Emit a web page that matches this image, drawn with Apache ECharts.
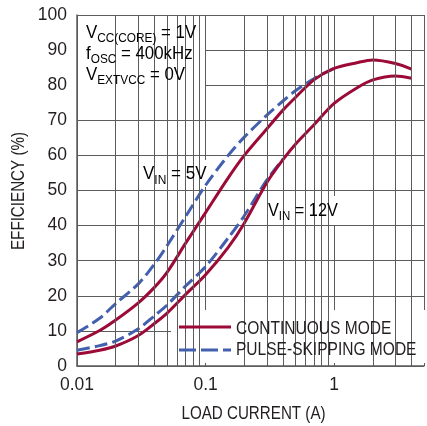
<!DOCTYPE html>
<html><head><meta charset="utf-8">
<script src="https://cdn.jsdelivr.net/npm/echarts@6/dist/echarts.min.js"></script>
<style>html,body{margin:0;padding:0;background:#fff}#c{width:427px;height:426px}</style>
</head><body><div id="c"></div>
<script>
// Load current (A)
const current = [0.01, 0.015, 0.02, 0.03, 0.04, 0.05, 0.07, 0.1, 0.15, 0.2, 0.3, 0.4, 0.5, 0.7, 1, 1.5, 2, 3, 4];
// Efficiency (%)
const ccm5  = [6.9, 10.1, 13.1, 18.0, 22.4, 26.6, 35.0, 43.7, 53.6, 60.0, 67.6, 72.9, 76.5, 81.6, 84.8, 86.4, 87.2, 86.2, 84.6];
const ps5   = [9.5, 13.6, 17.8, 23.4, 29.0, 34.2, 42.6, 51.5, 60.0, 65.2, 71.5, 75.5, 78.4, 81.9, 84.8, null, null, null, null];
const ccm12 = [3.4, 4.5, 5.7, 8.7, 12.1, 15.0, 20.4, 26.0, 33.8, 40.7, 52.3, 58.8, 63.2, 68.8, 74.8, 79.2, 81.5, 82.6, 82.0];
const ps12  = [4.5, 5.8, 7.1, 10.6, 14.3, 17.3, 22.8, 28.3, 36.5, 42.8, 53.0, 58.9, null, null, null, null, null, null, null];
const xMajor = [0.01, 0.1, 1];
const xMinor = [0.02,0.03,0.04,0.05,0.06,0.07,0.08,0.09,0.2,0.3,0.4,0.5,0.6,0.7,0.8,0.9,2,3,4];
const seriesNames = ['CONTINUOUS MODE', 'PULSE-SKIPPING MODE'];
const xName = 'LOAD CURRENT (A)';
const yName = 'EFFICIENCY (%)';

const FONT = "'Liberation Sans',Arial,sans-serif";
const RED = '#9c0b37', BLUE = '#4260ad', GRID = '#5c5c5c', TXT = '#231f20';
const FS = 18.5, SFS = 13, LFS = 17.5;

function pairs(ys) { return current.map((x, i) => ys[i] == null ? null : [x, ys[i]]).filter(p => p); }

const rich = {
  m: { fontSize: FS, fontFamily: FONT, color: TXT, lineHeight: 21 },
  s: { fontSize: SFS, fontFamily: FONT, color: TXT, lineHeight: 21, padding: [12, 0, 0, 0] }
};
function label(text, x, y, opts) {
  return Object.assign({ type: 'text', z: 10, x: x, y: y, scaleX: 0.82,
    style: { text: text, fontSize: FS, fontFamily: FONT, fill: TXT, align: 'left', verticalAlign: 'middle' } }, opts || {});
}

const chart = echarts.init(document.getElementById('c'));
chart.setOption({
  animation: false,
  grid: { left: 77, top: 15, width: 352, height: 351 },
  xAxis: {
    type: 'log', logBase: 10, min: 0.01, max: 5,
    axisLine: { show: true, lineStyle: { color: GRID, width: 1.5 } },
    axisTick: { show: false },
    splitLine: { show: true, lineStyle: { color: GRID, width: 1 } },
    axisLabel: {
      fontSize: LFS, fontFamily: FONT, color: TXT, margin: 10,
      formatter: v => xMajor.some(m => Math.abs(m - v) < 1e-9) ? String(v) : ''
    }
  },
  yAxis: {
    type: 'value', min: 0, max: 100, interval: 10,
    axisLine: { show: true, lineStyle: { color: GRID, width: 1.5 } },
    axisTick: { show: false },
    splitLine: { show: true, lineStyle: { color: GRID, width: 1 } },
    axisLabel: { fontSize: LFS, fontFamily: FONT, color: TXT, margin: 10 }
  },
  series: [
    {
      type: 'line', data: [], z: 1, silent: true,
      markLine: {
        silent: true, symbol: ['none', 'none'], label: { show: false },
        lineStyle: { color: GRID, width: 1, type: 'solid' },
        emphasis: { disabled: true },
        data: xMinor.map(v => ({ xAxis: v }))
      }
    },
    { name: seriesNames[1], type: 'line', data: pairs(ps5), z: 2, smooth: 0.3, showSymbol: false,
      lineStyle: { color: BLUE, width: 3, type: [13, 5] } },
    { name: seriesNames[1], type: 'line', data: pairs(ps12), z: 2, smooth: 0.3, showSymbol: false,
      lineStyle: { color: BLUE, width: 3, type: [13, 5] } },
    { name: seriesNames[0], type: 'line', data: pairs(ccm5), z: 3, smooth: 0.3, showSymbol: false,
      lineStyle: { color: RED, width: 3 } },
    { name: seriesNames[0], type: 'line', data: pairs(ccm12), z: 3, smooth: 0.3, showSymbol: false,
      lineStyle: { color: RED, width: 3 } }
  ],
  graphic: { elements: [
    // white backgrounds covering the grid
    { type: 'rect', z: 1.5, shape: { x: 78, y: 16, width: 127, height: 75 }, style: { fill: '#fff' } },
    { type: 'rect', z: 1.5, shape: { x: 139, y: 160, width: 69, height: 27 }, style: { fill: '#fff' } },
    { type: 'rect', z: 1.5, shape: { x: 264, y: 196, width: 78, height: 29 }, style: { fill: '#fff' } },
    { type: 'rect', z: 1.5, shape: { x: 171, y: 310, width: 260, height: 53 }, style: { fill: '#fff' } },
    // axis names
    label(xName, 253.5, 413.5, { style: { text: xName, fontSize: FS, fontFamily: FONT, fill: TXT, align: 'center', verticalAlign: 'middle' } }),
    label(yName, 18.5, 191, { rotation: Math.PI / 2, style: { text: yName, fontSize: FS, fontFamily: FONT, fill: TXT, align: 'center', verticalAlign: 'middle' } }),
    // conditions
    { type: 'text', z: 10, x: 86, y: 22, scaleX: 0.91, style: {
      text: '{m|V}{s|CC(CORE)}{m| = 1V}\n{m|f}{s|OSC}{m| = 400kHz}\n{m|V}{s|EXTVCC}{m| = 0V}',
      rich: rich, verticalAlign: 'top', lineHeight: 21 } },
    { type: 'text', z: 10, x: 143, y: 163.5, scaleX: 0.92, style: {
      text: '{m|V}{s|IN}{m| = 5V}', rich: rich, verticalAlign: 'top', lineHeight: 21 } },
    { type: 'text', z: 10, x: 268, y: 200, scaleX: 0.88, style: {
      text: '{m|V}{s|IN}{m| = 12V}', rich: rich, verticalAlign: 'top', lineHeight: 21 } },
    // legend
    { type: 'line', z: 10, shape: { x1: 179, y1: 327, x2: 231, y2: 327 }, style: { stroke: RED, lineWidth: 3 } },
    { type: 'line', z: 10, shape: { x1: 179, y1: 350, x2: 231, y2: 350 }, style: { stroke: BLUE, lineWidth: 3, lineDash: [17, 5] } },
    label(seriesNames[0], 236, 328.5, { scaleX: 0.84 }),
    label(seriesNames[1], 236, 350, { scaleX: 0.84 })
  ] }
});
</script>
</body></html>
